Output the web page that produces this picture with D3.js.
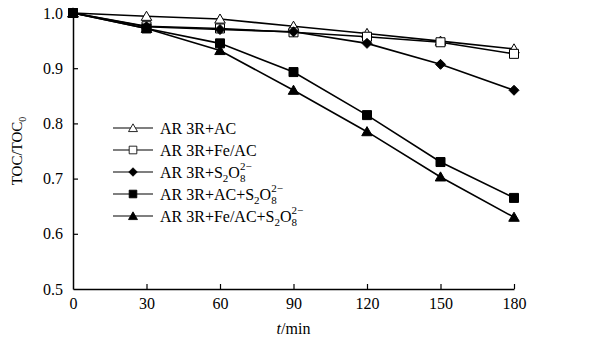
<!DOCTYPE html>
<html>
<head>
<meta charset="utf-8">
<script src="https://cdn.jsdelivr.net/npm/d3@7"></script>
<style>
  body { margin: 0; background: #fff; }
  text { font-family: "Liberation Serif", "Times New Roman", serif; fill: #000; }
</style>
</head>
<body>
<div id="chart"></div>
<script>
// data
var times = [0, 30, 60, 90, 120, 150, 180];
var acVals = [1.0, 0.994, 0.989, 0.976, 0.963, 0.949, 0.935];
var feacVals = [1.0, 0.976, 0.972, 0.965, 0.957, 0.947, 0.926];
var s2o8Vals = [1.0, 0.975, 0.970, 0.966, 0.945, 0.907, 0.860];
var acS2o8Vals = [1.0, 0.972, 0.945, 0.893, 0.815, 0.730, 0.665];
var feacS2o8Vals = [1.0, 0.972, 0.932, 0.860, 0.785, 0.703, 0.630];
var xTicks = [0, 30, 60, 90, 120, 150, 180];
var yTicks = [0.5, 0.6, 0.7, 0.8, 0.9, 1.0];

var series = [
  { name: "AR 3R+AC", vals: acVals, shape: "triangle", fill: "#fff", ion: false },
  { name: "AR 3R+Fe/AC", vals: feacVals, shape: "square", fill: "#fff", ion: false },
  { name: "AR 3R+S", vals: s2o8Vals, shape: "diamond", fill: "#000", ion: true },
  { name: "AR 3R+AC+S", vals: acS2o8Vals, shape: "square", fill: "#000", ion: true },
  { name: "AR 3R+Fe/AC+S", vals: feacS2o8Vals, shape: "triangle", fill: "#000", ion: true }
];

var W = 594, H = 353;
var margin = { top: 13, right: 80, bottom: 64, left: 73 },
  width = W - margin.left - margin.right,
  height = H - margin.top - margin.bottom;

var svg = d3.select("#chart").append("svg")
  .attr("width", W).attr("height", H);
var g = svg.append("g")
  .attr("transform", "translate(" + margin.left + "," + margin.top + ")");

var x = d3.scaleLinear().domain([0, 180]).range([0, width]);
var y = d3.scaleLinear().domain([0.5, 1.0]).range([height, 0]);

// axes, ticks pointing inward
var xAxis = g.append("g")
  .attr("transform", "translate(0," + height + ")")
  .call(d3.axisBottom(x).tickValues(xTicks).tickSizeInner(-5).tickSizeOuter(0).tickPadding(9));
var yAxis = g.append("g")
  .call(d3.axisLeft(y).tickValues(yTicks).tickFormat(d3.format(".1f")).tickSizeInner(-5).tickSizeOuter(0).tickPadding(10));
[xAxis, yAxis].forEach(function (a) {
  a.select(".domain").attr("stroke", "#000").attr("stroke-width", 1.5);
  a.selectAll(".tick line").attr("stroke", "#000").attr("stroke-width", 1.2);
  a.selectAll(".tick text")
    .style("font-family", "'Liberation Serif', serif")
    .style("font-size", "16px").attr("fill", "#000");
});
xAxis.selectAll(".tick").filter(function (d) { return d === 0; }).select("line").remove();
yAxis.selectAll(".tick").filter(function (d) { return d === 0.5; }).select("line").remove();

// axis titles
var xt = svg.append("text")
  .attr("x", margin.left + width / 2)
  .attr("y", 334)
  .attr("text-anchor", "middle")
  .style("font-size", "16px");
xt.append("tspan").style("font-style", "italic").text("t");
xt.append("tspan").text("/min");

var yt = svg.append("text")
  .attr("transform", "translate(22," + (margin.top + height / 2) + ") rotate(-90)")
  .attr("text-anchor", "middle")
  .style("font-size", "15px");
yt.append("tspan").text("TOC/TOC");
yt.append("tspan").attr("dy", 4).style("font-size", "10px").text("0");

// marker paths
function markerPath(shape) {
  if (shape === "triangle") return d3.symbol().type(d3.symbolTriangle).size(48)();
  if (shape === "square") return "M-4.5,-4.5H4.5V4.5H-4.5Z";
  return "M0,-5L5,0L0,5L-5,0Z";
}

var line = d3.line()
  .x(function (d, i) { return x(times[i]); })
  .y(function (d) { return y(d); });

series.forEach(function (s) {
  g.append("path")
    .datum(s.vals)
    .attr("d", line)
    .attr("fill", "none")
    .attr("stroke", "#000")
    .attr("stroke-width", 1.6);
});
series.forEach(function (s) {
  g.selectAll(null)
    .data(s.vals).enter().append("path")
    .attr("d", markerPath(s.shape))
    .attr("transform", function (d, i) {
      var dy = s.shape === "triangle" ? 1 : 0;
      return "translate(" + x(times[i]) + "," + (y(d) + dy) + ")";
    })
    .attr("fill", s.fill)
    .attr("stroke", "#000")
    .attr("stroke-width", 1);
});

// legend
var leg = svg.append("g").attr("transform", "translate(113,128)");
series.forEach(function (s, i) {
  var row = leg.append("g").attr("transform", "translate(0," + (i * 22) + ")");
  row.append("line").attr("x1", 0).attr("x2", 40).attr("y1", 0).attr("y2", 0)
    .attr("stroke", "#000").attr("stroke-width", 1.2);
  row.append("path").attr("d", markerPath(s.shape))
    .attr("transform", "translate(20," + (s.shape === "triangle" ? 1 : 0) + ") scale(0.85)")
    .attr("fill", s.fill).attr("stroke", "#000").attr("stroke-width", 1);
  var t = row.append("text").attr("x", 47).attr("y", 5.5).style("font-size", "16px");
  t.append("tspan").text(s.name);
  if (s.ion) {
    t.append("tspan").attr("dy", 4).style("font-size", "11px").text("2");
    t.append("tspan").attr("dy", -4).text("O");
    t.append("tspan").attr("dy", 4).style("font-size", "11px").text("8");
    t.append("tspan").attr("dx", -5.5).attr("dy", -12).style("font-size", "11px").text("2\u2212");
  }
});
</script>
</body>
</html>
